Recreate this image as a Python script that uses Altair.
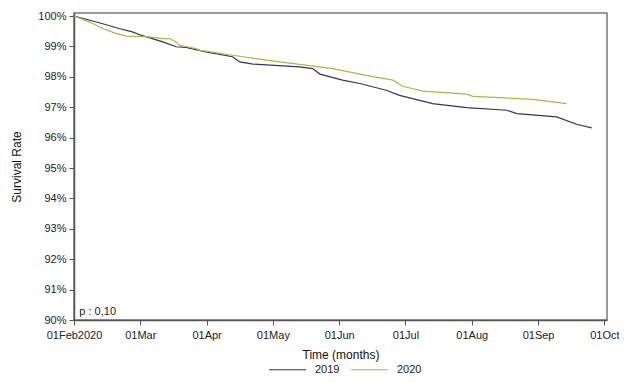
import altair as alt
import pandas as pd

month_labels = ["01Feb2020", "01Mar", "01Apr", "01May", "01Jun", "01Jul", "01Aug", "01Sep", "01Oct"]
pct_ticks = [90, 91, 92, 93, 94, 95, 96, 97, 98, 99, 100]

t_2019 = [0.0, 0.38, 0.68, 0.88, 1.01, 1.34, 1.54, 1.69, 1.99, 2.39, 2.50, 2.70, 3.40, 3.60, 3.71,
          4.05, 4.31, 4.71, 4.91, 5.41, 5.92, 6.53, 6.68, 7.28, 7.58, 7.81]
s_2019 = [100.0, 99.78, 99.59, 99.48, 99.37, 99.15, 98.99, 98.97, 98.82, 98.66, 98.49, 98.42, 98.33, 98.27, 98.09,
          97.89, 97.78, 97.56, 97.39, 97.12, 96.99, 96.90, 96.79, 96.68, 96.44, 96.32]

t_2020 = [0.0, 0.23, 0.43, 0.63, 0.79, 1.09, 1.34, 1.44, 1.54, 1.59, 1.84, 1.89, 2.39, 2.90, 3.40,
          3.71, 3.90, 4.41, 4.81, 4.96, 5.26, 5.92, 6.02, 6.92, 7.43]
s_2020 = [100.0, 99.81, 99.59, 99.43, 99.34, 99.32, 99.26, 99.26, 99.15, 99.04, 98.93, 98.88, 98.71, 98.55, 98.41,
          98.33, 98.27, 98.05, 97.89, 97.69, 97.53, 97.43, 97.36, 97.26, 97.12]

p_label = ["p : 0,10"]
p_pos_x = [0.08]
p_pos_y = [90.26]

rows = []
for t, s in zip(t_2019, s_2019):
    rows.append({"month": t, "rate": s, "year": "2019"})
for t, s in zip(t_2020, s_2020):
    rows.append({"month": t, "rate": s, "year": "2020"})
df = pd.DataFrame(rows)

ann = pd.DataFrame({"month": p_pos_x, "rate": p_pos_y, "label": p_label})

label_expr = "[" + ",".join(f"'{m}'" for m in month_labels) + "][round(datum.value)]"

FONT = "Liberation Sans"

x_scale = alt.Scale(domain=[0, 8.04], nice=False, zero=False)
y_scale = alt.Scale(domain=[90, 100.1], nice=False, zero=False)

x_axis = alt.Axis(title="Time (months)", values=list(range(9)), labelExpr=label_expr,
                  grid=False, labelPadding=4, titlePadding=9,
                  labelOverlap=False, labelFlush=False, labelBound=False)
y_axis = alt.Axis(title="Survival Rate", values=pct_ticks,
                  labelExpr="datum.value + '%'", grid=False, labelPadding=3, titlePadding=14,
                  labelOverlap=False, labelFlush=False, labelBound=False)

x_enc = alt.X("month:Q", scale=x_scale, axis=x_axis)
y_enc = alt.Y("rate:Q", scale=y_scale, axis=y_axis)

lines = alt.Chart(df).mark_line(strokeWidth=1.2, interpolate="linear").encode(
    x=x_enc,
    y=y_enc,
    color=alt.Color("year:N",
                    scale=alt.Scale(domain=["2019", "2020"], range=["#33345f", "#a9b845"]),
                    legend=alt.Legend(title=None, orient="none", direction="horizontal",
                                      legendX=194, legendY=337, symbolType="stroke",
                                      symbolSize=1369, symbolStrokeWidth=1.2,
                                      labelFont=FONT, labelFontSize=11, labelColor="#222",
                                      labelOffset=8, columnPadding=8)),
)

text = alt.Chart(ann).mark_text(align="left", baseline="middle", font=FONT, fontSize=11, color="#222").encode(
    x=x_enc,
    y=y_enc,
    text="label:N",
)

chart = alt.layer(lines, text).properties(
    width=533, height=307,
    autosize=alt.AutoSizeParams(type="none"),
    padding={"left": 66, "top": 5, "right": 12, "bottom": 55},
).configure_view(
    stroke="#7a7a7a", strokeWidth=1.5
).configure_axis(
    labelFont=FONT, titleFont=FONT, labelFontSize=11, titleFontSize=12,
    labelColor="#222", titleColor="#111", titleFontWeight="normal",
    domainColor="#555", tickColor="#555", tickSize=5, domainWidth=1.5,
)

chart.save("out.html", embed_options={"renderer": "svg", "actions": False})
